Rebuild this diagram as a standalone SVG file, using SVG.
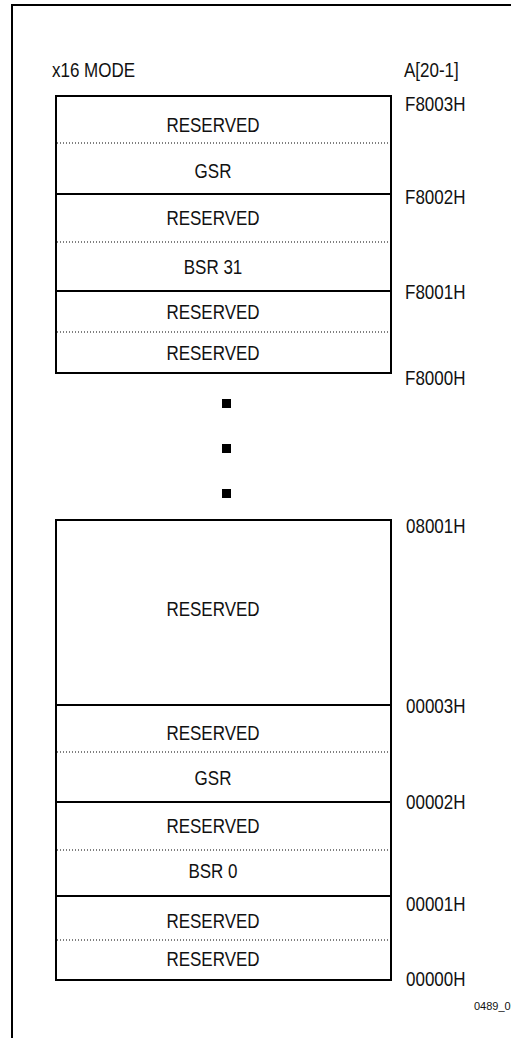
<svg xmlns="http://www.w3.org/2000/svg" width="511" height="1038" viewBox="0 0 511 1038">
<style>
.t{font-family:"Liberation Sans",Arial,sans-serif;font-size:20px;fill:#111}
.c{text-anchor:middle}
.box{fill:none;stroke:#000;stroke-width:2}
.solid{stroke:#000;stroke-width:2}
.dot{stroke:#000;stroke-width:1.2;stroke-dasharray:1 2}
.sm{font-family:"Liberation Sans",Arial,sans-serif;font-size:11px;fill:#111}
</style>
<rect x="12" y="5" width="600" height="1100" fill="#fff" stroke="#000" stroke-width="2"/>
<text class="t" transform="translate(52,77) scale(0.85,1)">x16 MODE</text>
<text class="t" transform="translate(404,77) scale(0.85,1)">A[20-1]</text>

<g id="top-block">
<rect class="box" x="56" y="96" width="335" height="277"/>
</g>
<g id="lines-top">
<line class="dot" x1="57" y1="143" x2="390" y2="143"/>
<line class="solid" x1="56" y1="194" x2="391" y2="194"/>
<line class="dot" x1="57" y1="242" x2="390" y2="242"/>
<line class="solid" x1="56" y1="291" x2="391" y2="291"/>
<line class="dot" x1="57" y1="332" x2="390" y2="332"/>
</g>
<g id="cell-t1"><text class="t c" transform="translate(213,132) scale(0.85,1)">RESERVED</text></g>
<g id="cell-t2"><text class="t c" transform="translate(213,178) scale(0.85,1)">GSR</text></g>
<g id="cell-t3"><text class="t c" transform="translate(213,225) scale(0.85,1)">RESERVED</text></g>
<g id="cell-t4"><text class="t c" transform="translate(213,274) scale(0.85,1)">BSR 31</text></g>
<g id="cell-t5"><text class="t c" transform="translate(213,319) scale(0.85,1)">RESERVED</text></g>
<g id="cell-t6"><text class="t c" transform="translate(213,360) scale(0.85,1)">RESERVED</text></g>

<g id="ellipsis">
<rect x="222" y="399" width="9" height="9" fill="#000"/>
<rect x="222" y="444" width="9" height="9" fill="#000"/>
<rect x="222" y="489" width="9" height="9" fill="#000"/>
</g>

<g id="bottom-block">
<rect class="box" x="56" y="520" width="335" height="460"/>
</g>
<g id="lines-bottom">
<line class="solid" x1="56" y1="705" x2="391" y2="705"/>
<line class="dot" x1="57" y1="752" x2="390" y2="752"/>
<line class="solid" x1="56" y1="802" x2="391" y2="802"/>
<line class="dot" x1="57" y1="850" x2="390" y2="850"/>
<line class="solid" x1="56" y1="896" x2="391" y2="896"/>
<line class="dot" x1="57" y1="940" x2="390" y2="940"/>
</g>
<g id="cell-b1"><text class="t c" transform="translate(213,616) scale(0.85,1)">RESERVED</text></g>
<g id="cell-b2"><text class="t c" transform="translate(213,740) scale(0.85,1)">RESERVED</text></g>
<g id="cell-b3"><text class="t c" transform="translate(213,785) scale(0.85,1)">GSR</text></g>
<g id="cell-b4"><text class="t c" transform="translate(213,833) scale(0.85,1)">RESERVED</text></g>
<g id="cell-b5"><text class="t c" transform="translate(213,878) scale(0.85,1)">BSR 0</text></g>
<g id="cell-b6"><text class="t c" transform="translate(213,928) scale(0.85,1)">RESERVED</text></g>
<g id="cell-b7"><text class="t c" transform="translate(213,966) scale(0.85,1)">RESERVED</text></g>

<g id="addresses">
<text class="t" transform="translate(405,111) scale(0.85,1)">F8003H</text>
<text class="t" transform="translate(405,204) scale(0.85,1)">F8002H</text>
<text class="t" transform="translate(405,299) scale(0.85,1)">F8001H</text>
<text class="t" transform="translate(405,385) scale(0.85,1)">F8000H</text>
<text class="t" transform="translate(406,533) scale(0.85,1)">08001H</text>
<text class="t" transform="translate(406,713) scale(0.85,1)">00003H</text>
<text class="t" transform="translate(406,809) scale(0.85,1)">00002H</text>
<text class="t" transform="translate(406,911) scale(0.85,1)">00001H</text>
<text class="t" transform="translate(406,986) scale(0.85,1)">00000H</text>
</g>
<text class="sm" x="474" y="1010">0489_05</text>
</svg>
